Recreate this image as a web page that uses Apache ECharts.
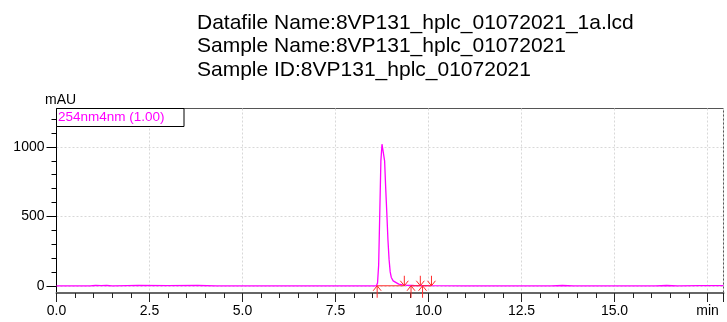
<!DOCTYPE html>
<html>
<head>
<meta charset="utf-8">
<script src="https://cdn.jsdelivr.net/npm/echarts@6/dist/echarts.min.js"></script>
<style>
  html, body { margin: 0; padding: 0; background: #fff; }
  #chart { width: 727px; height: 322px; }
</style>
</head>
<body>
<div id="chart"></div>
<script>
// header text
const titleLines = [
  'Datafile Name:8VP131_hplc_01072021_1a.lcd',
  'Sample Name:8VP131_hplc_01072021',
  'Sample ID:8VP131_hplc_01072021'
];
const traceName = '254nm4nm (1.00)';

// chromatogram (retention time in min, absorbance in mAU)
const timeMin = [0, 0.9, 1.05, 1.2, 1.35, 1.5, 1.9, 2.2, 3.0, 3.8, 4.3, 5.5, 7.0, 8.0, 8.6,
  8.63, 8.66, 8.69, 8.72, 8.75, 8.77, 8.79, 8.82, 8.85, 8.88, 8.91, 8.94, 8.97,
  9.0, 9.05, 9.1, 9.2, 9.3, 9.4, 9.6, 10.0, 11.0, 13.3, 13.6, 13.9, 16.1, 16.4, 16.7, 17.3, 17.93];
const absMau = [0, 0, 2, 1, 2, 0, 1, 2, 1, 2, 0, 0, 0, 0, 0,
  20, 150, 520, 900, 1020, 1030, 1015, 900, 700, 520, 330, 190, 100,
  60, 35, 22, 12, 7, 4, 2, 1, 0, 0, 2, 0, 0, 2, 0, 1, 1];

// integration marks
const peakStart = [8.62, 9.53, 9.84];
const peakEnd = [9.35, 9.78, 10.08];

// axis ticks
const xTickValues = [0, 2.5, 5, 7.5, 10, 12.5, 15, 17.5];
const xTickLabels = ['0.0', '2.5', '5.0', '7.5', '10.0', '12.5', '15.0', 'min'];
const yTickValues = [0, 500, 1000];
const yTickLabels = ['0', '500', '1000'];

const FONT = 'Liberation Sans, Arial, sans-serif';
const RED = '#ff2a2a';

const chart = echarts.init(document.getElementById('chart'));

const arrowData = peakStart.map(t => [t, 0, 1]).concat(peakEnd.map(t => [t, 0, -1]));
const baseData = peakStart.map((t, i) => [t, peakEnd[i]]);

const option = {
  animation: false,
  backgroundColor: '#fff',
  title: {
    text: titleLines.join('\n'),
    left: 192,
    top: 6,
    textStyle: { fontFamily: FONT, fontSize: 21, fontWeight: 'normal', color: '#000', lineHeight: 23.5 }
  },
  grid: {
    left: 56.5, top: 108.5, width: 667, height: 184.5,
    show: true, borderColor: '#555', borderWidth: 1
  },
  xAxis: {
    type: 'value',
    min: 0, max: 17.93,
    minInterval: 2.5, maxInterval: 2.5, splitNumber: 7,
    axisLine: { onZero: false, lineStyle: { color: '#666', width: 2 } },
    axisTick: { length: 9, lineStyle: { color: '#222' } },
    minorTick: { show: true, splitNumber: 5, length: 5, lineStyle: { color: '#222' } },
    axisLabel: {
      customValues: xTickValues,
      formatter: v => xTickLabels[xTickValues.indexOf(v)] || '',
      margin: 11, color: '#000', fontFamily: FONT, fontSize: 14
    },
    splitLine: { show: true, lineStyle: { color: '#d8d8d8', type: [2, 2] } }
  },
  yAxis: {
    type: 'value',
    min: -52, max: 1277,
    minInterval: 500, maxInterval: 500, splitNumber: 3,
    axisLine: { show: true, onZero: false, lineStyle: { color: '#000', width: 1 } },
    axisTick: { show: true, customValues: yTickValues, length: 10, lineStyle: { color: '#000' } },
    minorTick: { show: true, splitNumber: 5, length: 5, lineStyle: { color: '#000' } },
    axisLabel: {
      customValues: yTickValues,
      formatter: v => yTickLabels[yTickValues.indexOf(v)] || '',
      margin: 12, color: '#000', fontFamily: FONT, fontSize: 14
    },
    splitLine: { show: true, lineStyle: { color: '#d8d8d8', type: [2, 2] } }
  },
  graphic: [
    { type: 'text', left: 45, top: 93, style: { text: 'mAU', font: '14px ' + FONT, fill: '#000' } },
    { type: 'rect', z: 100, shape: { x: 56.5, y: 108.5, width: 127.5, height: 18 },
      style: { fill: '#fff', stroke: '#000', lineWidth: 1 } },
    { type: 'text', z: 101, x: 58, y: 117.5,
      style: { text: traceName, font: '13.5px ' + FONT, fill: '#ff00ff', verticalAlign: 'middle' } }
  ],
  series: [
    {
      name: traceName,
      type: 'line',
      data: timeMin.map((t, i) => [t, absMau[i]]),
      showSymbol: false,
      symbol: 'none',
      lineStyle: { color: '#ff00ff', width: 1.3 },
      z: 3
    },
    {
      type: 'custom',
      data: baseData,
      z: 4,
      renderItem: (params, api) => {
        const a = api.coord([api.value(0), 0]);
        const b = api.coord([api.value(1), 0]);
        return { type: 'line', shape: { x1: a[0], y1: a[1], x2: b[0], y2: b[1] },
          style: { stroke: RED, lineWidth: 1 } };
      }
    },
    {
      type: 'custom',
      data: arrowData,
      z: 5,
      renderItem: (params, api) => {
        const p = api.coord([api.value(0), api.value(1)]);
        const dir = api.value(2);
        const len = dir > 0 ? 12 : 10;
        return {
          type: 'group',
          children: [
            { type: 'line', shape: { x1: p[0], y1: p[1], x2: p[0], y2: p[1] + dir * len },
              style: { stroke: RED, lineWidth: 1 } },
            { type: 'polyline', shape: { points: [[p[0] - 4, p[1] + dir * 5], [p[0], p[1]], [p[0] + 4, p[1] + dir * 5]] },
              style: { stroke: RED, fill: null, lineWidth: 1 } }
          ]
        };
      }
    }
  ]
};

chart.setOption(option);
</script>
</body>
</html>
